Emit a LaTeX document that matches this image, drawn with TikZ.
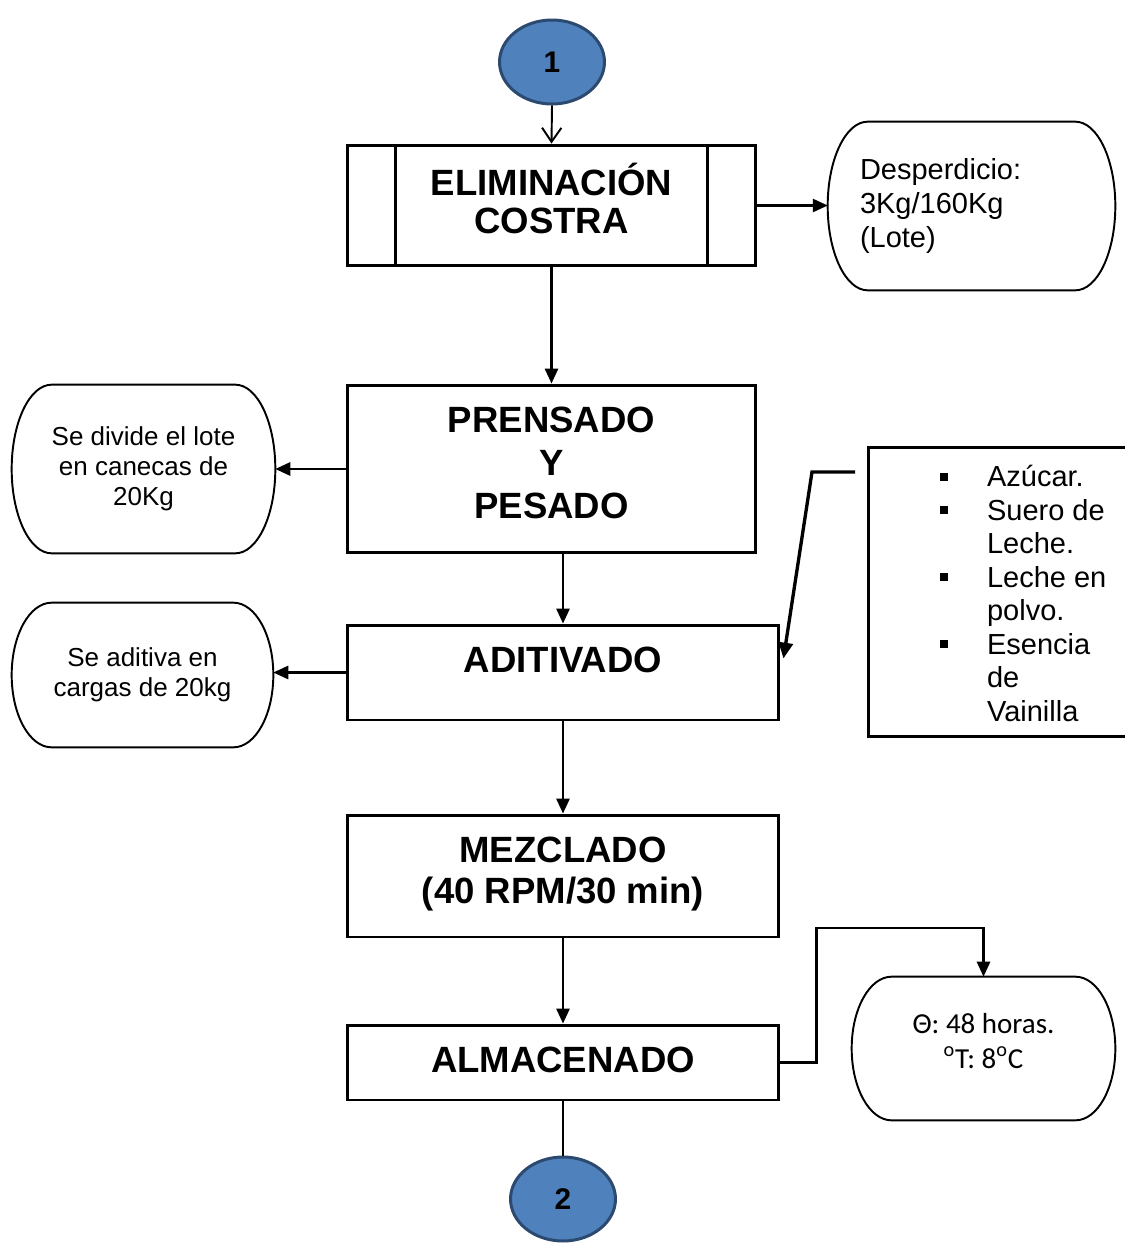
\documentclass[tikz,border=0pt]{standalone}
\usepackage{fontspec}
\setmainfont{Liberation Sans}
\newfontfamily\calib{Carlito}
\usetikzlibrary{arrows.meta,shapes.geometric,calc}
\definecolor{cblue}{HTML}{4F81BD}
\definecolor{cdark}{HTML}{2C4A70}
\newcommand\sqb{\makebox[26.6pt][l]{\raisebox{3.4pt}{\rule{4.5pt}{4.5pt}}}}
\newcommand\sqi{\hspace*{26.6pt}}
\begin{document}
\begin{tikzpicture}[x=0.02cm,y=-0.02cm,
  procbox/.style={draw, line width=1.7pt, inner sep=0pt},
  proctext/.style={anchor=base, inner sep=0pt, align=center,
    font=\fontsize{20.8}{#1}\selectfont\bfseries},
  proctext/.default=24,
  termbox/.style={inner sep=0pt, align=center, font=\fontsize{14.8}{17}\selectfont},
  connector/.style={ellipse, draw=cdark, fill=cblue, line width=1.7pt,
    minimum width=2.1cm, minimum height=1.68cm, inner sep=0pt,
    font=\fontsize{17}{20}\selectfont\bfseries},
  arr/.style={line width=1.3pt, -{Triangle[length=8.5pt,width=7.5pt]}},
  openarr/.style={line width=1.1pt, -{Straight Barb[length=8pt,width=11pt]}},
  plainline/.style={line width=1pt},
  thickarr/.style={line width=1.9pt, -{Triangle[length=9pt,width=8pt]}},
  termline/.style={line width=1.1pt},
]
\useasboundingbox (0,0) rectangle (1125,1244);

% connectors
\node[connector] (c1) at (552,62) {1};
\node[connector] (c2) at (563,1199) {2};

% process boxes
\node[procbox, minimum width=8.18cm, minimum height=2.42cm] (elim) at (551.5,205.5) {};
\draw[line width=1.7pt] ($(elim.north west)+(50,0)$) -- ($(elim.south west)+(50,0)$);
\draw[line width=1.7pt] ($(elim.north east)+(-50,0)$) -- ($(elim.south east)+(-50,0)$);
\node[proctext=21.5] (elimtxt) at (551.5,233) {ELIMINACIÓN\\COSTRA};
\node[procbox, minimum width=8.18cm, minimum height=3.36cm] (prens) at (551.5,469) {};
\node[proctext=24.4] (prenstxt) at (551.5,518) {PRENSADO\\Y\\PESADO};
\node[procbox, minimum width=8.64cm, minimum height=1.9cm] (adit) at (563,672.5) {};
\node[proctext] (adittxt) at (563,672) {ADITIVADO};
\node[procbox, minimum width=8.64cm, minimum height=2.44cm] (mezcl) at (563,876) {};
\node[proctext=23.2] (mezcltxt) at (563,903) {MEZCLADO\\(40 RPM/30 min)};
\node[procbox, minimum width=8.64cm, minimum height=1.5cm] (alm) at (563,1062.5) {};
\node[proctext] (almtxt) at (563,1072) {ALMACENADO};

% terminator-like boxes
\node[termbox, font=\fontsize{16.5}{19.3}\selectfont, text width=4.46cm, align=left,
  minimum width=5.74cm, minimum height=3.36cm] (desp) at (971.5,206)
  {Desperdicio:\\3Kg/160Kg\\(Lote)};
\node[termbox, minimum width=5.26cm, minimum height=3.36cm] (divide) at (143.5,469)
  {Se divide el lote\\en canecas de\\20Kg};
\node[termbox, minimum width=5.22cm, minimum height=2.88cm] (aditiva) at (142.5,675)
  {Se aditiva en\\cargas de 20kg};
\node[termbox, minimum width=5.26cm, minimum height=2.86cm] (temp) at (983.5,1048.5) {};
\node[anchor=base, inner sep=0pt, align=center, font=\calib\fontsize{16.5}{19.8}\selectfont]
  (temptxt) at (983.5,1068) {Θ: 48 horas.\\\textsuperscript{o}T: 8\textsuperscript{o}C};

\foreach \nd in {desp,divide,aditiva,temp}{
  \draw[termline] let \p1=(\nd.north west), \p2=(\nd.south east), \n1={(\y1-\y2)/2} in
    (\x1+0.8cm,\y1) -- (\x2-0.8cm,\y1)
    arc[start angle=90, end angle=-90, x radius=0.8cm, y radius=\n1]
    -- (\x1+0.8cm,\y2)
    arc[start angle=270, end angle=90, x radius=0.8cm, y radius=\n1] -- cycle;
}

% ingredient box
\node[draw, line width=1.7pt, minimum width=5.34cm, minimum height=5.8cm, inner sep=0pt] (bul) at (1001.5,592) {};
\node[anchor=base west, align=left, inner sep=0pt, font=\fontsize{16.5}{19.05}\selectfont] (bultxt) at (940,721)
  {\sqb Azúcar.\\\sqb Suero de\\\sqi Leche.\\\sqb Leche en\\\sqi polvo.\\\sqb Esencia\\\sqi de\\\sqi Vainilla};

% connectors / arrows
\draw[openarr] (c1.south) -- (elim.north);
\draw[arr] (elim.east) -- (elim.east -| desp.west);
\draw[arr] (elim.south) -- (prens.north);
\draw[arr] (prens.west) -- (prens.west -| divide.east);
\draw[arr] (prens.south -| adit.north) -- (adit.north);
\draw[arr] (adit.west) -- (adit.west -| aditiva.east);
\draw[arr] (adit.south) -- (mezcl.north);
\draw[arr] (mezcl.south) -- (alm.north);
\draw[arr] (alm.east) -- ++(36,0) |- ($(temp.north)+(0,-49)$) -- (temp.north);
\draw[plainline] (alm.south) -- (c2.north);

\coordinate (bst) at (855,472);
\coordinate (bbend) at (812,472);
\coordinate (btip) at ($(adit.east)+(3,-14)$);
\draw[thickarr] (bst) -- (bbend) -- (btip);
\end{tikzpicture}
\end{document}
